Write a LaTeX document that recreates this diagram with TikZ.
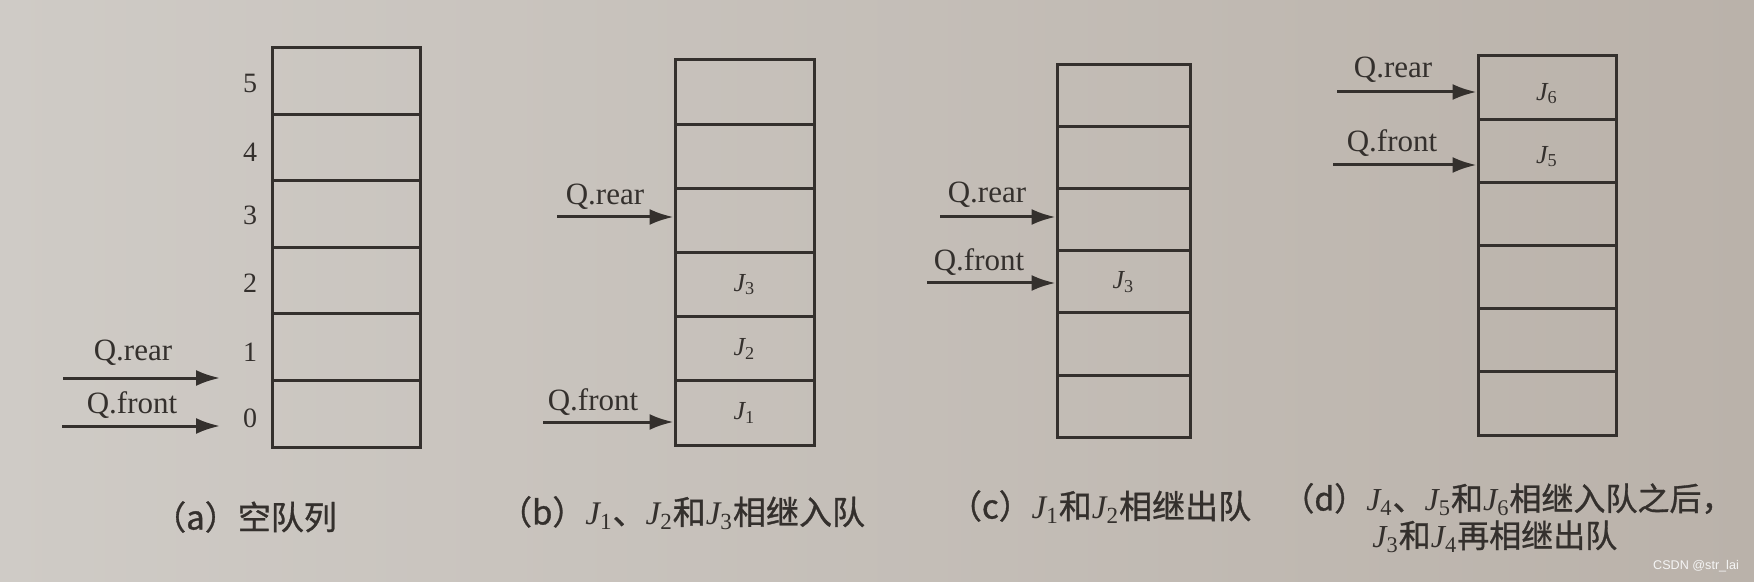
\documentclass[tikz,border=0pt]{standalone}
\usepackage{fontspec}
\setmainfont{Liberation Serif}
\newfontfamily\cjk{Noto Sans CJK SC}[FakeBold=1]
\newfontfamily\wmfont{Liberation Sans}
\usetikzlibrary{arrows.meta}
\definecolor{ink}{RGB}{52,48,45}
\definecolor{paperL}{RGB}{207,203,198}
\definecolor{paperR}{RGB}{186,178,170}
\newcommand\Jc[1]{{\rmfamily\itshape J}\textsubscript{\rmfamily #1}}
\newcommand\queue[5]{% name, left, right, top, bottom
  \foreach \i in {0,...,5}{
    \node[cell, minimum width={(#3-#2)*0.5pt}, minimum height={(#5-#4)/6*0.5pt}]
      (#1\i) at ({(#2+#3)/2}, {#5-(\i+0.5)*(#5-#4)/6}) {};
  }}
\begin{document}
\begin{tikzpicture}[x=0.5pt,y=-0.5pt,
  cell/.style={draw=ink, line width=1.5pt, inner sep=0pt},
  ptr/.style={draw=ink, line width=1.5pt, -{Latex[length=12pt,width=8pt]}},
  qlab/.style={text=ink, font=\fontsize{15.5pt}{18pt}\selectfont, inner sep=0pt},
  num/.style={text=ink, font=\fontsize{14pt}{16pt}\selectfont, inner sep=0pt},
  jlab/.style={text=ink, font=\fontsize{13pt}{15pt}\selectfont\itshape, inner sep=0pt},
  captext/.style={text=ink, font=\cjk\fontsize{16.5pt}{19pt}\selectfont, inner sep=0pt}]
\useasboundingbox (0,0) rectangle (1754,582);
\shade[left color=paperL, right color=paperR] (0,0) rectangle (1754,582);

% (a)
\queue{qa}{272}{420}{48}{447}
\foreach \i/\y in {0/418,1/352,2/283,3/215,4/152,5/83}
  \node[num] (na\i) at (250,\y) {\i};
\coordinate (ra1) at (63,378); \coordinate (ra2) at (220,378);
\coordinate (fa1) at (62,426); \coordinate (fa2) at (220,426);
\draw[ptr] (ra1) -- (ra2);
\draw[ptr] (fa1) -- (fa2);
\node[qlab] (lra) at (133,353) {Q.rear};
\node[qlab] (lfa) at (132,405) {Q.front};

% (b)
\queue{qb}{675}{814}{60}{445}
\node[jlab] (jb1) at (qb0) {J\textsubscript{\upshape 1}};
\node[jlab] (jb2) at (qb1) {J\textsubscript{\upshape 2}};
\node[jlab] (jb3) at (qb2) {J\textsubscript{\upshape 3}};
\coordinate (rb1) at (557,217); \coordinate (rb2) at (qb3.west |- 0,217);
\coordinate (fb1) at (543,422); \coordinate (fb2) at (qb0.west |- 0,422);
\draw[ptr] (rb1) -- (rb2);
\draw[ptr] (fb1) -- (fb2);
\node[qlab] (lrb) at (605,197) {Q.rear};
\node[qlab] (lfb) at (593,402) {Q.front};

% (c)
\queue{qc}{1057}{1190}{65}{437}
\node[jlab] (jc3) at (qc2) {J\textsubscript{\upshape 3}};
\coordinate (rc1) at (940,217); \coordinate (rc2) at (qc3.west |- 0,217);
\coordinate (fc1) at (927,283); \coordinate (fc2) at (qc2.west |- 0,283);
\draw[ptr] (rc1) -- (rc2);
\draw[ptr] (fc1) -- (fc2);
\node[qlab] (lrc) at (987,195) {Q.rear};
\node[qlab] (lfc) at (979,262) {Q.front};

% (d)
\queue{qd}{1478}{1616}{56}{435}
\node[jlab] (jd6) at ([yshift=-3pt]qd5) {J\textsubscript{\upshape 6}};
\node[jlab] (jd5) at ([yshift=-3pt]qd4) {J\textsubscript{\upshape 5}};
\coordinate (rd1) at (1337,92); \coordinate (rd2) at (qd5.west |- 0,92);
\coordinate (fd1) at (1333,165); \coordinate (fd2) at (qd4.west |- 0,165);
\draw[ptr] (rd1) -- (rd2);
\draw[ptr] (fd1) -- (fd2);
\node[qlab] (lrd) at (1393,70) {Q.rear};
\node[qlab] (lfd) at (1392,143) {Q.front};

% captions
\node[captext] (capa) at (245,517) {（a）空队列};
\node[captext] (capb) at (682,513) {（b）\Jc{1}、\Jc{2}和\Jc{3}相继入队};
\node[captext] (capc) at (1100,507) {（c）\Jc{1}和\Jc{2}相继出队};
\node[captext, font=\cjk\fontsize{16pt}{18.5pt}\selectfont, anchor=west, align=left] (capd) at (1282,518)
  {（d）\Jc{4}、\Jc{5}和\Jc{6}相继入队之后，\\\hspace*{45pt}\Jc{3}和\Jc{4}再相继出队};
\node[text=white!92!gray, font=\wmfont\fontsize{6.3pt}{8pt}\selectfont, inner sep=0pt] (wm) at (1696,566) {CSDN @str\_lai};
\end{tikzpicture}
\end{document}
